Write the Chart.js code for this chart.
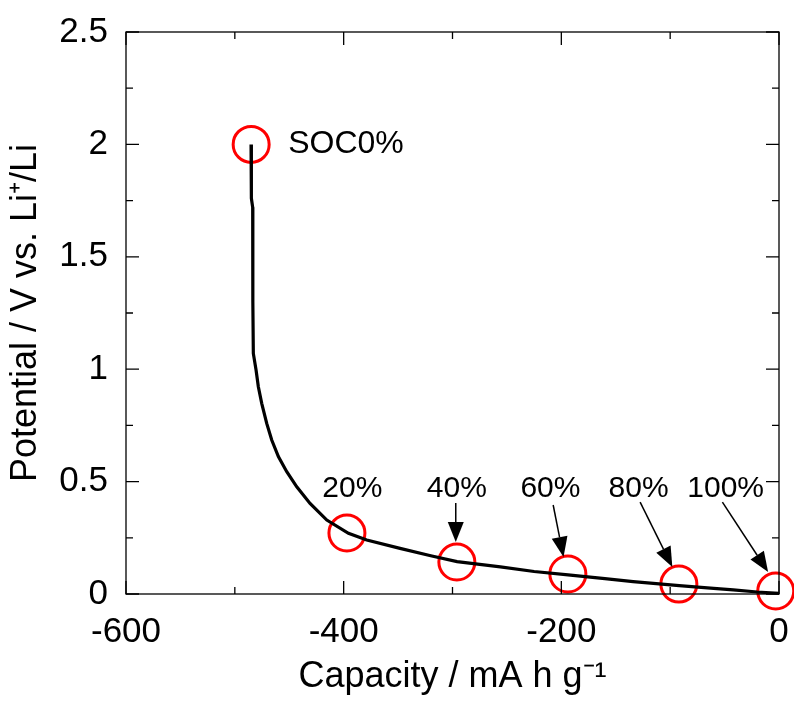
<!DOCTYPE html>
<html>
<head>
<meta charset="utf-8">
<script src="https://cdn.jsdelivr.net/npm/chart.js@4/dist/chart.umd.min.js"></script>
<style>
  html, body { margin: 0; padding: 0; background: #fff; }
  #c { display: block; }
</style>
</head>
<body>
<canvas id="c" width="794" height="704"></canvas>
<script>
// ---- Data ----
const capacity = [-485.1, -485.1, -485.0, -484.3, -483.6, -483.5, -483.4, -483.0, -480.5, -478.4, -475.3,
  -470.7, -466.1, -460.0, -452.3, -443.1, -430.9, -415.5, -395.6, -378.8, -348.2, -320.0, -295.8,
  -256.0, -225.0, -193.8, -160.0, -134.0, -91.7, -60.0, -42.0, -20.0, 0.0];
const potential = [2.00, 1.90, 1.80, 1.76, 1.72, 1.50, 1.30, 1.07, 0.996, 0.922, 0.848,
  0.759, 0.685, 0.611, 0.544, 0.477, 0.403, 0.329, 0.270, 0.240, 0.203, 0.170, 0.144,
  0.121, 0.100, 0.085, 0.068, 0.055, 0.037, 0.025, 0.018, 0.009, 0.003];

const socLabels = ['SOC0%', '20%', '40%', '60%', '80%', '100%'];
const socCapacity = [-485, -397, -296, -194, -92, -3];
const socPotential = [2.0, 0.271, 0.142, 0.089, 0.044, 0.013];

// label anchor points (data units)
const labelCapacity = [-451, -392, -296, -210, -129, -49];
const labelPotential = [2.0, 0.47, 0.47, 0.47, 0.47, 0.47];

// arrows (data units): from label to circle; null = no arrow
const arrowFromCapacity = [null, null, -297, -207.5, -127.6, -52];
const arrowFromPotential = [null, null, 0.405, 0.396, 0.409, 0.409];
const arrowToCapacity = [null, null, -297, -198, -98, -10];
const arrowToPotential = [null, null, 0.231, 0.165, 0.12, 0.098];

const xTickLabels = ['-600', '-400', '-200', '0'];
const yTickLabels = ['0', '0.5', '1', '1.5', '2', '2.5'];

const FONT = "'Liberation Sans', Arial, Helvetica, sans-serif";

function fmt(v) { return String(Math.round(v * 1000) / 1000); }

const annotationPlugin = {
  id: 'annot',
  afterDatasetsDraw(chart) {
    const ctx = chart.ctx;
    const xs = chart.scales.x, ys = chart.scales.y;
    const a = chart.chartArea;
    ctx.save();
    // frame
    ctx.strokeStyle = '#000';
    ctx.lineWidth = 1.3;
    ctx.strokeRect(a.left, a.top, a.right - a.left, a.bottom - a.top);
    // inward ticks on all four sides
    ctx.lineWidth = 1.3;
    xs.ticks.forEach(t => {
      const px = xs.getPixelForValue(t.value);
      const major = xTickLabels.includes(fmt(t.value));
      const len = major ? 13 : 7;
      ctx.beginPath();
      ctx.moveTo(px, a.bottom); ctx.lineTo(px, a.bottom - len);
      ctx.moveTo(px, a.top); ctx.lineTo(px, a.top + len);
      ctx.stroke();
    });
    ys.ticks.forEach(t => {
      const py = ys.getPixelForValue(t.value);
      const major = yTickLabels.includes(fmt(t.value));
      const len = major ? 13 : 7;
      ctx.beginPath();
      ctx.moveTo(a.left, py); ctx.lineTo(a.left + len, py);
      ctx.moveTo(a.right, py); ctx.lineTo(a.right - len, py);
      ctx.stroke();
    });
    // labels
    ctx.fillStyle = '#000';
    ctx.textBaseline = 'middle';
    socLabels.forEach((lab, i) => {
      const px = xs.getPixelForValue(labelCapacity[i]);
      const py = ys.getPixelForValue(labelPotential[i]);
      if (i === 0) {
        ctx.font = '32px ' + FONT;
        ctx.textAlign = 'left';
      } else {
        ctx.font = '30px ' + FONT;
        ctx.textAlign = 'center';
      }
      ctx.fillText(lab, px, py);
    });
    // arrows
    ctx.lineWidth = 1.5;
    for (let i = 0; i < socLabels.length; i++) {
      if (arrowFromCapacity[i] === null) continue;
      const x1 = xs.getPixelForValue(arrowFromCapacity[i]);
      const y1 = ys.getPixelForValue(arrowFromPotential[i]);
      const x2 = xs.getPixelForValue(arrowToCapacity[i]);
      const y2 = ys.getPixelForValue(arrowToPotential[i]);
      const ang = Math.atan2(y2 - y1, x2 - x1);
      const hl = 20, hw = 8;
      const bx = x2 - hl * Math.cos(ang), by = y2 - hl * Math.sin(ang);
      ctx.beginPath();
      ctx.moveTo(x1, y1); ctx.lineTo(bx, by);
      ctx.stroke();
      ctx.beginPath();
      ctx.moveTo(x2, y2);
      ctx.lineTo(bx + hw * Math.sin(ang), by - hw * Math.cos(ang));
      ctx.lineTo(bx - hw * Math.sin(ang), by + hw * Math.cos(ang));
      ctx.closePath();
      ctx.fill();
    }
    ctx.restore();
  }
};

function noPad(s) { s.paddingLeft = 0; s.paddingRight = 0; s.paddingTop = 0; s.paddingBottom = 0; }

new Chart(document.getElementById('c'), {
  type: 'scatter',
  data: {
    datasets: [
      {
        label: 'Potential',
        data: capacity.map((x, i) => ({ x: x, y: potential[i] })),
        showLine: true,
        borderColor: '#000',
        borderWidth: 3.2,
        pointRadius: 0,
        tension: 0,
        clip: false,
        order: 0
      },
      {
        label: 'SOC',
        data: socCapacity.map((x, i) => ({ x: x, y: socPotential[i] })),
        showLine: false,
        pointStyle: 'circle',
        pointRadius: 18,
        borderWidth: 3,
        pointBorderColor: '#ff0000',
        pointBackgroundColor: 'rgba(0,0,0,0)',
        clip: false,
        order: 1
      }
    ]
  },
  options: {
    responsive: false,
    devicePixelRatio: 1,
    animation: false,
    events: [],
    layout: { autoPadding: false, padding: { top: 32, right: 15, left: 0, bottom: 0 } },
    plugins: {
      legend: { display: false },
      tooltip: { enabled: false }
    },
    scales: {
      x: {
        type: 'linear',
        min: -600, max: 0,
        afterFit(s) { s.height = 110; noPad(s); },
        grid: { display: false, drawTicks: false },
        border: { display: false },
        ticks: {
          stepSize: 100,
          padding: 17,
          color: '#000',
          font: { family: FONT, size: 35 },
          maxRotation: 0,
          autoSkip: false,
          callback(v) { const s = fmt(v); return xTickLabels.includes(s) ? s : ''; }
        },
        title: {
          display: true,
          text: 'Capacity / mA h g⁻¹',
          color: '#000',
          font: { family: FONT, size: 36 },
          padding: { top: 0, bottom: 5 }
        }
      },
      y: {
        type: 'linear',
        min: 0, max: 2.5,
        afterFit(s) { s.width = 126; noPad(s); },
        grid: { display: false, drawTicks: false },
        border: { display: false },
        ticks: {
          stepSize: 0.25,
          padding: 18,
          color: '#000',
          font: { family: FONT, size: 35 },
          autoSkip: false,
          callback(v) { const s = fmt(v); return yTickLabels.includes(s) ? s : ''; }
        },
        title: {
          display: true,
          text: 'Potential / V vs. Li⁺/Li',
          color: '#000',
          font: { family: FONT, size: 36 },
          padding: { top: 4, bottom: 0 }
        }
      }
    }
  },
  plugins: [annotationPlugin]
});
</script>
</body>
</html>
